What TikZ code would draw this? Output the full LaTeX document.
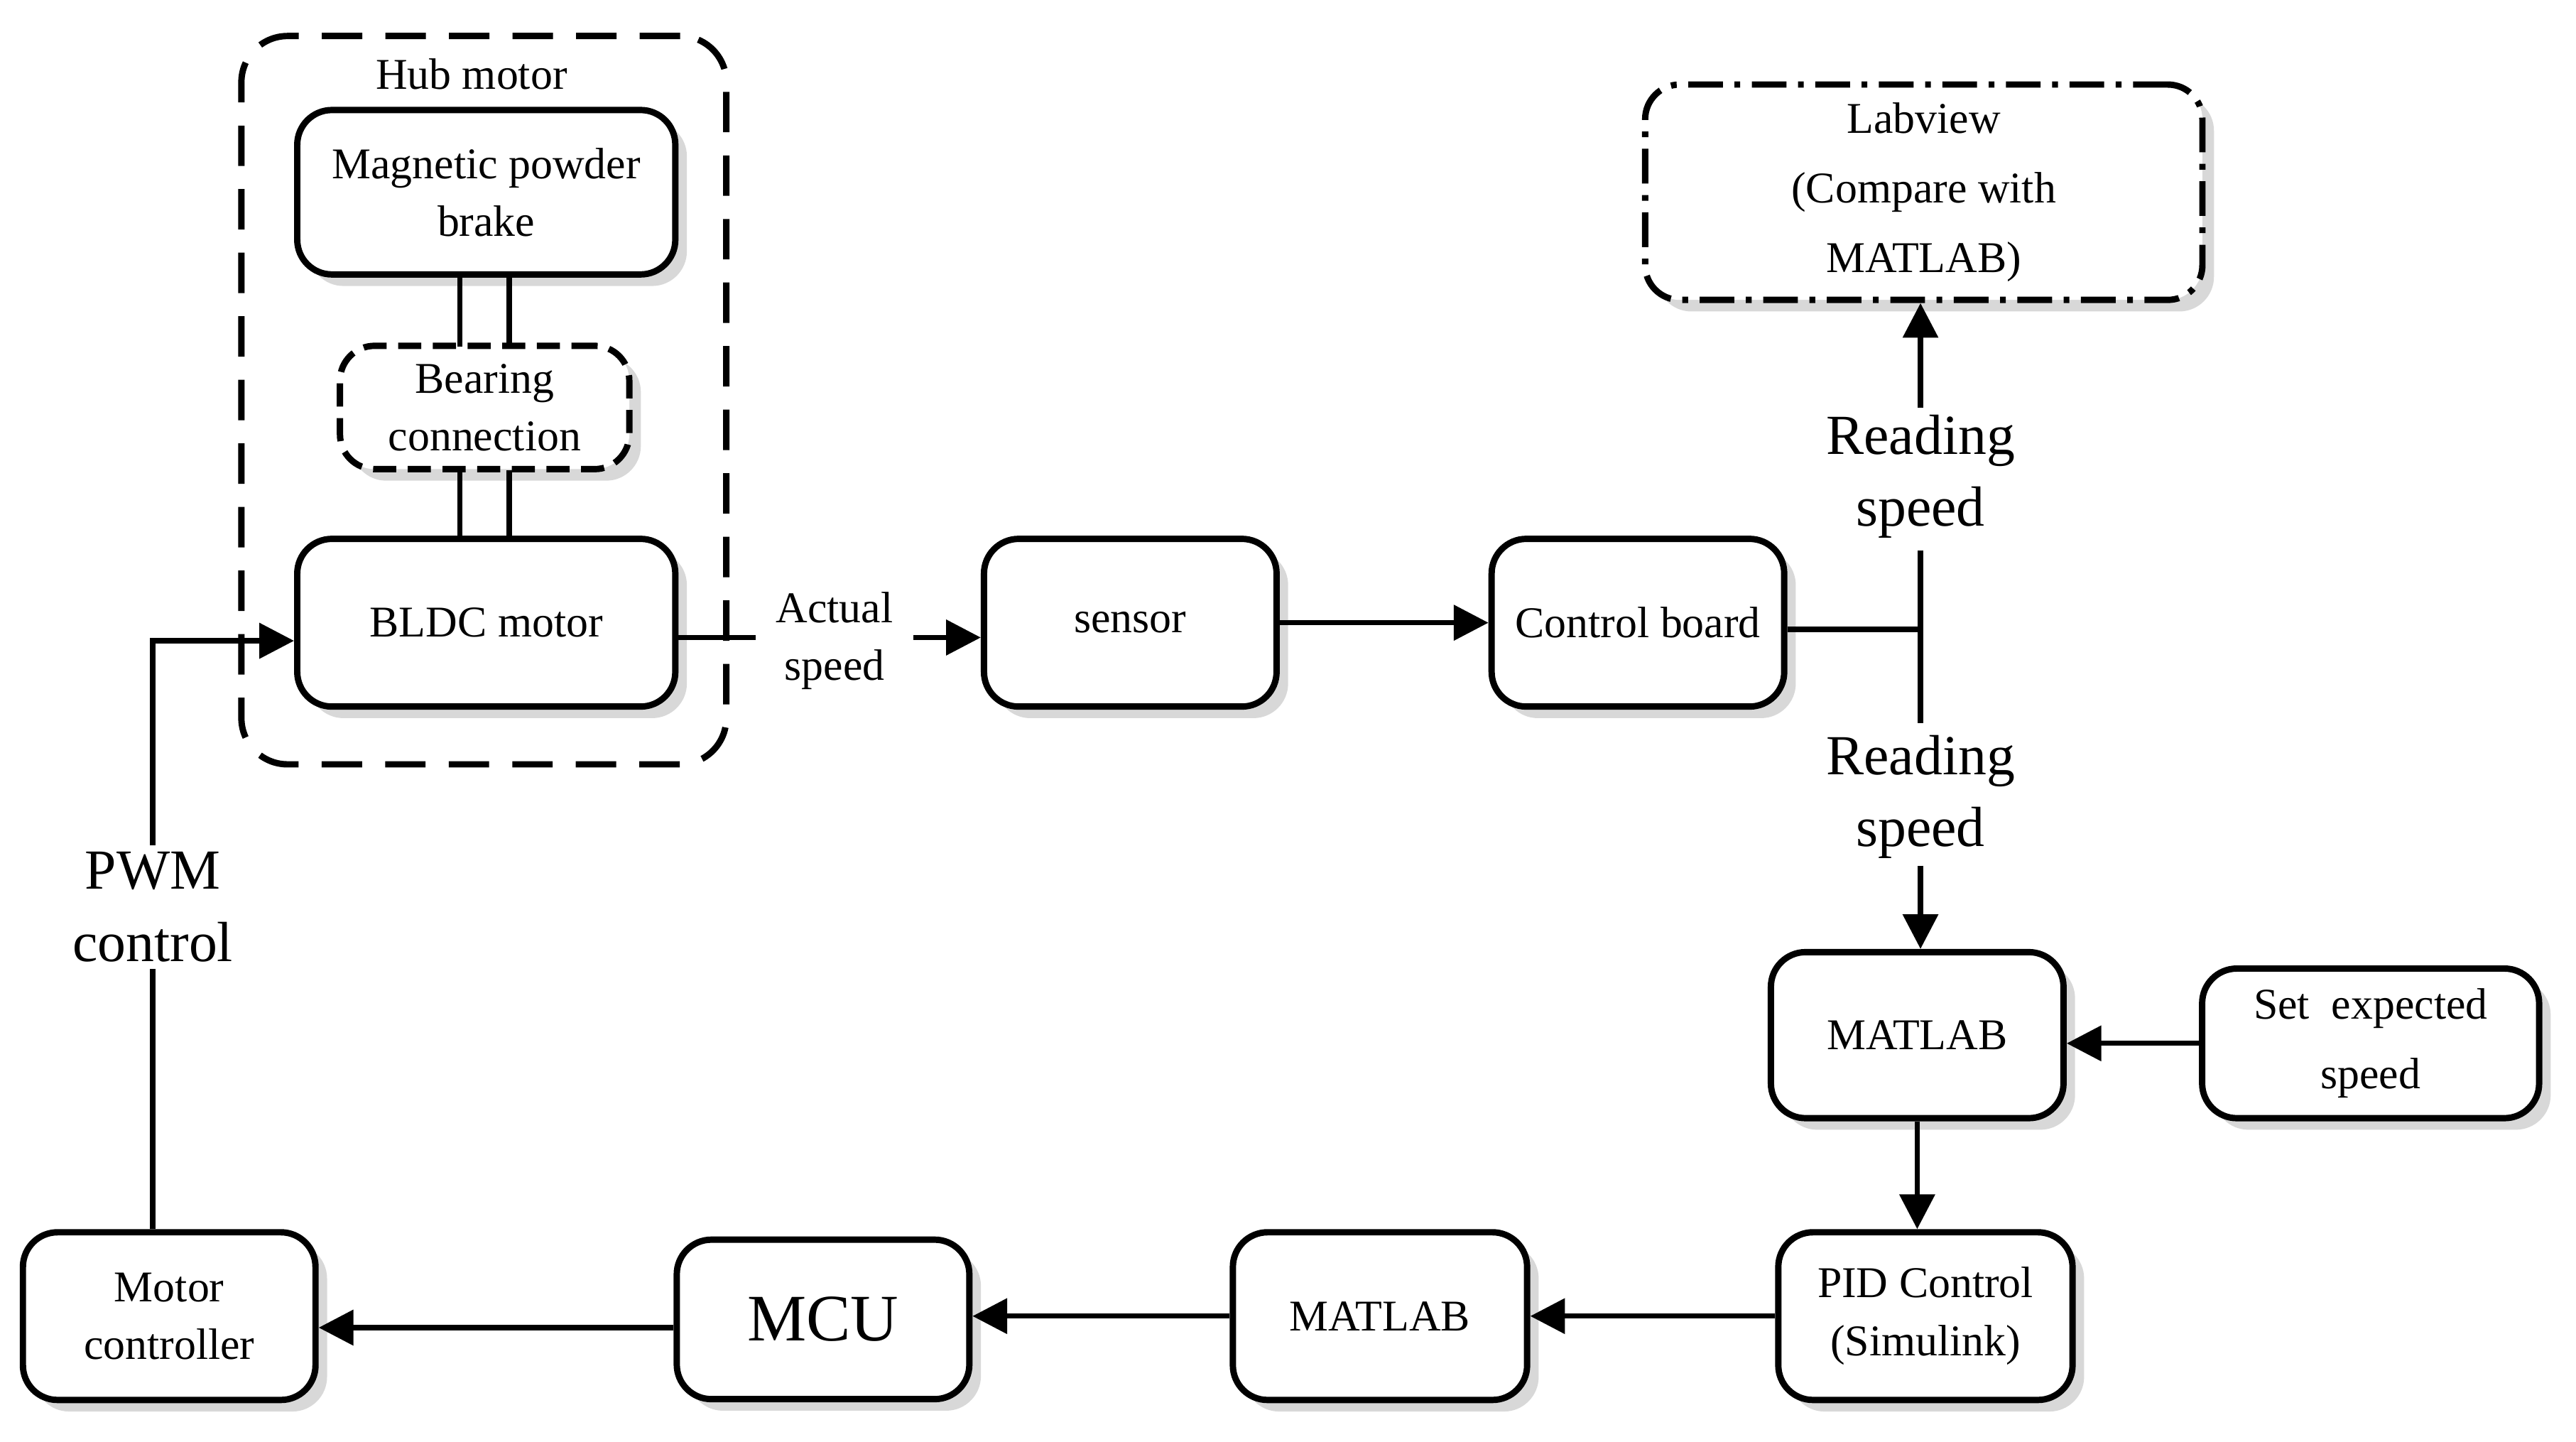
\documentclass[tikz,border=0pt]{standalone}
\usepackage{fontspec}
\setmainfont{Liberation Serif}
\usetikzlibrary{shadows,arrows.meta}
\begin{document}
\begin{tikzpicture}[x=0.01cm,y=-0.01cm,
 box/.style={draw,line width=1.1pt,rounded corners=6pt,fill=white,drop shadow={shadow xshift=2pt,shadow yshift=-2pt,fill=gray!60},align=center,font=\fontsize{7.6}{10}\selectfont,inner sep=0pt},
 arr/.style={line width=0.9pt,-{Triangle[length=6pt,width=6pt]}},
 ln/.style={line width=0.9pt},
 big/.style={font=\fontsize{9.8}{12.5}\selectfont,align=center,fill=white,inner sep=1pt}]
\useasboundingbox (0,0) rectangle (1568,877.6);
\node[draw,line width=1.1pt,dash pattern=on 7pt off 4pt,rounded corners=8pt,minimum width=2.95cm,minimum height=4.43cm,anchor=north west] (hub) at (145,20) {};
\node[font=\fontsize{7.6}{10}\selectfont] (hubl) at (287,45) {Hub motor};
\node[box,minimum width=2.30cm,minimum height=1.00cm] (mpb) at (296,117) {Magnetic powder\\brake};
\node[box,dash pattern=on 4pt off 2pt,minimum width=1.76cm,minimum height=0.75cm] (bc) at (295,248) {Bearing\\connection};
\node[box,minimum width=2.30cm,minimum height=1.02cm] (bldc) at (296,379) {BLDC motor};
\node[box,minimum width=1.78cm,minimum height=1.02cm] (sen) at (688,379) {sensor};
\node[box,minimum width=1.78cm,minimum height=1.02cm] (cb) at (997,379) {Control board};
\node[box,dash pattern=on 6pt off 2pt on 1pt off 2pt,minimum width=3.39cm,minimum height=1.31cm,font=\fontsize{7.6}{12}\selectfont] (lab) at (1171,117) {Labview\\(Compare with\\MATLAB)};
\node[box,minimum width=1.78cm,minimum height=1.01cm] (m1) at (1167,630) {MATLAB};
\node[box,minimum width=2.05cm,minimum height=0.91cm,font=\fontsize{7.6}{12}\selectfont] (set) at (1443,635) {Set\ \ expected\\speed};
\node[box,minimum width=1.79cm,minimum height=1.02cm] (pid) at (1172,801) {PID Control\\(Simulink)};
\node[box,minimum width=1.79cm,minimum height=1.02cm] (m2) at (840,801) {MATLAB};
\node[box,minimum width=1.78cm,minimum height=0.97cm,font=\fontsize{11.5}{14}\selectfont] (mcu) at (501,803) {MCU};
\node[box,minimum width=1.78cm,minimum height=1.02cm] (mc) at (103,801) {Motor\\controller};
% double lines
\foreach \x in {280,310}{
 \draw[ln] (\x,167) -- (\x,211);
 \draw[ln] (\x,286) -- (\x,328);}
% BLDC -> sensor
\node[font=\fontsize{7.6}{10}\selectfont,align=center] (as) at (508,390) {Actual\\speed};
\draw[ln] (bldc.east|-0,388) -- (as.west|-0,388);
\draw[arr] (as.east|-0,388) -- (sen.west|-0,388);
\draw[arr] (sen.east) -- (cb.west);
\coordinate (j) at (1169,383);
\draw[ln] (cb.east|-j) -- (j);
\draw[ln] (1169,335) -- (1169,440);
\node[big] (r1) at (1169,290) {Reading\\speed};
\node[big] (r2) at (1169,485) {Reading\\speed};
\draw[arr] (r1.north) -- (r1.north|-lab.south);
\draw[arr] (r2.south) -- (r2.south|-m1.north);
\draw[arr] (set.west) -- (m1.east|-set.west);
\draw[arr] (m1.south) -- (m1.south|-pid.north);
\draw[arr] (pid.west) -- (m2.east);
\draw[arr] (m2.west) -- (mcu.east|-m2.west);
\draw[arr] (mcu.west|-0,808) -- (mc.east|-0,808);
\node[big] (pwm) at (93,552) {PWM\\control};
\draw[ln] (pwm.south|-mc.north) -- (pwm.south);
\draw[arr] (pwm.north) -- (93,390) -- (bldc.west|-0,390);
\end{tikzpicture}
\end{document}
